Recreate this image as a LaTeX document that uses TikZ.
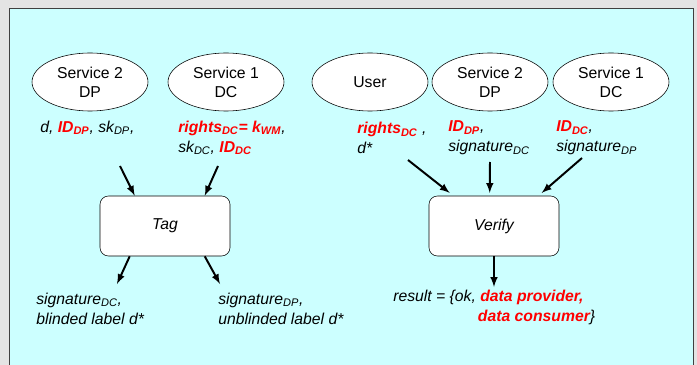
\documentclass[tikz,border=0pt]{standalone}
\usepackage{fontspec}
\setmainfont{Liberation Sans}
\usepackage{xcolor}
\usetikzlibrary{arrows, shapes.geometric, calc, positioning}
\definecolor{panelcyan}{RGB}{204,255,255}
\definecolor{framegray}{RGB}{228,228,228}
\newcommand{\hl}[1]{\textcolor{red}{\textbf{#1}}}
\newcommand{\sub}[1]{\textsubscript{#1}}

\begin{document}
\begin{tikzpicture}[
    every node/.style={font=\fontsize{11.2}{13.5}\selectfont},
    party/.style={ellipse, draw, fill=white, minimum width=2.9cm, minimum height=1.45cm, align=center, inner sep=0pt},
    procbox/.style={rectangle, rounded corners=6pt, draw, fill=white, minimum width=3.25cm, minimum height=1.5cm, font=\fontsize{11.2}{13.5}\selectfont\itshape},
    data/.style={anchor=west, align=left, inner sep=0pt, font=\fontsize{11.2}{14.2}\selectfont\itshape},
    flow/.style={-latex, line width=1.4pt}
]
    \useasboundingbox (0,0) rectangle (17.425,-9.125);
    \fill[framegray] (0,0) rectangle (17.425,-9.125);
    \fill[panelcyan] (0.225,-0.2) rectangle (17.325,-9.125);
    \draw[black!75] (0.225,-9.125) |- (17.325,-0.2) -- (17.325,-9.125);

    \node[party] (sdp) at (2.25, -2.05) {Service 2\\DP};
    \node[party] (sdc) at (5.65, -2.05) {Service 1\\DC};
    \node[party] (user) at (9.25, -2.05) {User};
    \node[party] (vdp) at (12.25, -2.05) {Service 2\\DP};
    \node[party] (vdc) at (15.275, -2.05) {Service 1\\DC};

    \node[data] (in1) at (1.0, -3.2) {d, \hl{ID\sub{DP}}, sk\sub{DP},};
    \node[data] (in2) at (4.45, -3.45) {\hl{rights\sub{DC}= k\sub{WM}}, \\ sk\sub{DC}, \hl{ID\sub{DC}}};
    \node[data] (in3) at (8.925, -3.45) {\hl{rights\sub{DC}} , \\ d*};
    \node[data] (in4) at (11.2, -3.45) {\hl{ID\sub{DP}}, \\ signature\sub{DC}};
    \node[data] (in5) at (13.9, -3.45) {\hl{ID\sub{DC}}, \\ signature\sub{DP}};

    \node[procbox] (tag) at (4.125, -5.65) {Tag};
    \node[procbox] (verify) at (12.35, -5.65) {Verify};

    \node[data] (out1) at (0.9, -7.71) {signature\sub{DC}, \\ blinded label d*};
    \node[data] (out2) at (5.45, -7.71) {signature\sub{DP}, \\ unblinded label d*};
    \node[data] (result) at (9.825, -7.68) {result = \{ok, \hl{data provider,} \\ \phantom{result = \{ok,}\hspace{0.05cm}\hl{data consumer}\}};

    \coordinate (t1) at (3.0, -4.15);
    \coordinate (t2) at (5.45, -4.15);
    \coordinate (o1) at (2.925, -7.1);
    \coordinate (o2) at (5.5, -7.1);
    \coordinate (v1) at (10.2, -4.0);
    \coordinate (v2) at (12.25, -4.05);
    \coordinate (v3) at (14.55, -3.95);
    \coordinate (o3) at (12.35, -7.175);

    \draw[flow] (t1) -- ([xshift=0.875cm]tag.north west);
    \draw[flow] (t2) -- ([xshift=2.625cm]tag.north west);
    \draw[flow] ([xshift=0.75cm]tag.south west) -- (o1);
    \draw[flow] ([xshift=2.625cm]tag.south west) -- (o2);
    \draw[flow] (v1) -- ([xshift=0.525cm,yshift=2pt]verify.north west);
    \draw[flow] (v2) -- ([xshift=1.525cm,yshift=2pt]verify.north west);
    \draw[flow] (v3) -- ([xshift=2.825cm,yshift=2pt]verify.north west);
    \draw[flow] (verify.south) -- (o3);
\end{tikzpicture}
\end{document}
